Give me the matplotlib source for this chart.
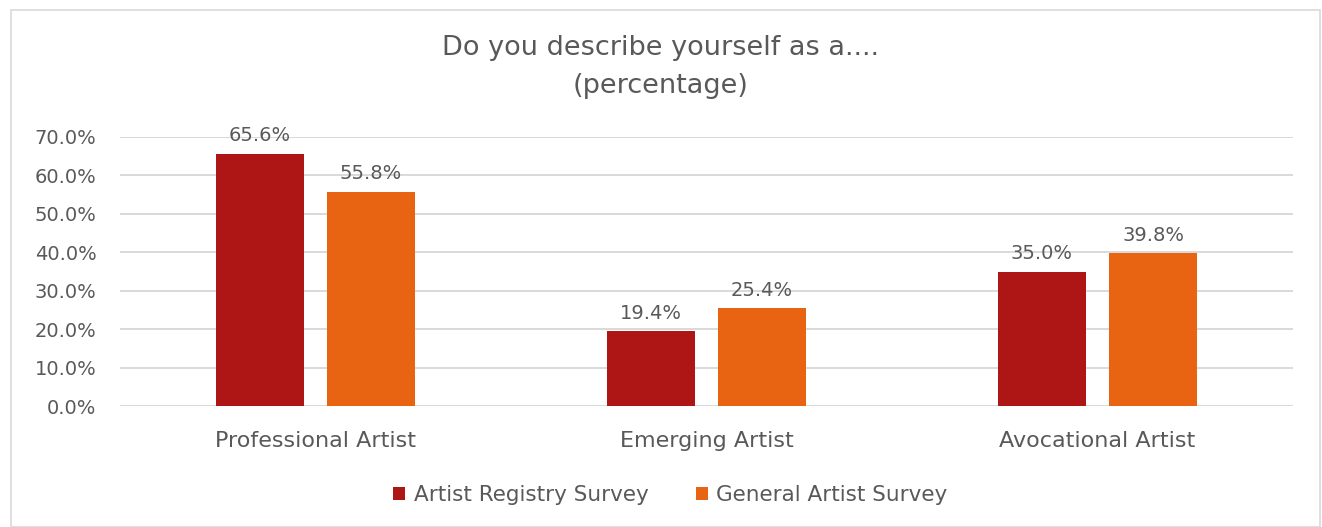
import matplotlib

matplotlib.use("Agg")
import matplotlib.pyplot as plt  # noqa: E402
import numpy as np  # noqa: E402
from matplotlib.patches import Rectangle  # noqa: E402

W, H, DPI = 1322, 527, 100
TXT = "#595959"
RED, ORANGE = "#AE1515", "#E86413"

categories = ["Professional Artist", "Emerging Artist", "Avocational Artist"]
registry = [65.6, 19.4, 35.0]
general = [55.8, 25.4, 39.8]
series_names = ["Artist Registry Survey", "General Artist Survey"]
yticks = [0, 10, 20, 30, 40, 50, 60, 70]

plt.rcParams["font.family"] = ["DejaVu Sans"]

fig = plt.figure(figsize=(W / DPI, H / DPI), dpi=DPI)
fig.patches.append(Rectangle((11 / W, 0), (1320 - 11) / W, 1 - 10 / H,
                             transform=fig.transFigure, fill=False,
                             ec="#d9d9d9", lw=1.2))

ax = fig.add_axes([120 / W, 1 - 406 / H, (1293 - 120) / W, (406 - 137) / H])
x = np.arange(len(categories))
bw, gap = 0.225, 0.059
b1 = ax.bar(x - (bw + gap) / 2, registry, bw, color=RED, label=series_names[0])
b2 = ax.bar(x + (bw + gap) / 2, general, bw, color=ORANGE, label=series_names[1])
for bars in (b1, b2):
    for b in bars:
        ax.text(b.get_x() + b.get_width() / 2, b.get_height() + 2.2,
                f"{b.get_height():.1f}%", ha="center", va="bottom",
                color=TXT, fontsize=14)

ax.set_xlim(-0.5, len(categories) - 0.5)
ax.set_ylim(0, 70)
ax.set_yticks(yticks)
ax.set_yticklabels([f"{v:.1f}%" for v in yticks], color=TXT, fontsize=14)
ax.set_xticks(x)
ax.set_xticklabels(categories, color=TXT, fontsize=16)
ax.tick_params(length=0, axis="y", pad=17)
ax.tick_params(length=0, axis="x", pad=18)
ax.grid(axis="y", color="#d9d9d9", lw=1.4)
ax.set_axisbelow(True)
for s in ax.spines.values():
    s.set_visible(False)

fig.text(0.5, 1 - 48 / H, "Do you describe yourself as a....", ha="center",
         va="center", color=TXT, fontsize=19.5)
fig.text(0.5, 1 - 86 / H, "(percentage)", ha="center", va="center",
         color=TXT, fontsize=19.5)

fig.legend(loc="center", bbox_to_anchor=(0.507, 1 - 495 / H), ncol=2,
           frameon=False, fontsize=15.5, labelcolor=TXT, handlelength=0.55,
           handleheight=0.55, handletextpad=0.4, columnspacing=2.2)

fig.savefig("out.png", dpi=DPI)
